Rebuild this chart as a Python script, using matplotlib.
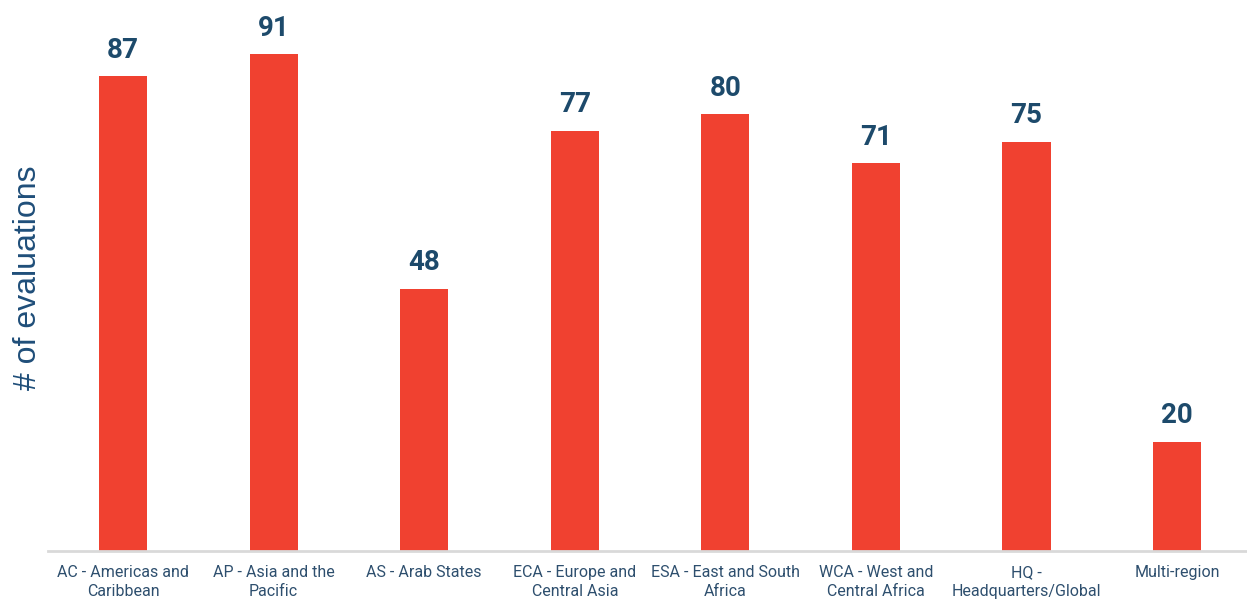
import matplotlib.pyplot as plt

# Datos
regiones = ["AC - Americas and\nCaribbean", "AP - Asia and the\nPacific", "AS - Arab States",
            "ECA - Europe and\nCentral Asia", "ESA - East and South\nAfrica",
            "WCA - West and\nCentral Africa", "HQ -\nHeadquarters/Global", "Multi-region"]
evaluaciones = [87, 91, 48, 77, 80, 71, 75, 20]

rojo = "#F04130"
azul = "#1D4A6B"

fig = plt.figure(figsize=(12.47, 5.99), dpi=100)
ax = fig.add_axes([0.0383, 0.0801, 0.966, 0.9115])

x = range(len(evaluaciones))
barras = ax.bar(x, evaluaciones, width=0.32, color=rojo)

for xi, v in zip(x, evaluaciones):
    ax.annotate(str(v), (xi, v), xytext=(0, 9), textcoords="offset points",
                ha="center", va="bottom", fontsize=20, fontweight="bold",
                color=azul, family="Roboto")

ax.set_xlim(-0.5, len(evaluaciones) - 0.5)
ax.set_ylim(0, 100)
ax.set_xticks(list(x))
ax.set_xticklabels(regiones, fontsize=11.5, color="#2E4F6E", family="Roboto", linespacing=1.35)
ax.tick_params(axis="x", length=0, pad=10)
ax.set_yticks([])

for s in ["top", "right", "left"]:
    ax.spines[s].set_visible(False)
ax.spines["bottom"].set_color("#D9D9D9")
ax.spines["bottom"].set_linewidth(2)

ax.set_ylabel("# of evaluations", fontsize=23, color="#1F4E79", family="Liberation Sans")
ax.yaxis.set_label_coords(-0.004, 0.5)

fig.savefig("out.png", dpi=100)
